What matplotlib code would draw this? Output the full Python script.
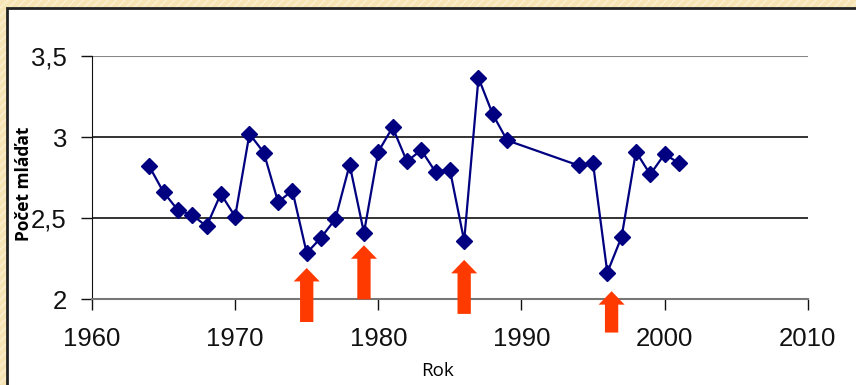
import matplotlib
matplotlib.use('Agg')
import matplotlib.pyplot as plt
from matplotlib.patches import Rectangle, FancyArrow

years = [1964, 1965, 1966, 1967, 1968, 1969, 1970, 1971, 1972, 1973, 1974,
         1975, 1976, 1977, 1978, 1979, 1980, 1981, 1982, 1983, 1984, 1985,
         1986, 1987, 1988, 1989, 1994, 1995, 1996, 1997, 1998, 1999, 2000, 2001]
mladata = [2.82, 2.66, 2.55, 2.52, 2.45, 2.65, 2.51, 3.02, 2.905, 2.60, 2.67,
           2.285, 2.38, 2.495, 2.83, 2.41, 2.91, 3.06, 2.85, 2.92, 2.785, 2.80,
           2.36, 3.365, 3.14, 2.98, 2.825, 2.84, 2.165, 2.385, 2.91, 2.77, 2.895, 2.84]

# arrows under the dips: year, tip, bottom
arrow_years = [1975, 1979, 1986, 1996.3]
arrow_tips = [2.193, 2.333, 2.243, 2.05]
arrow_bottoms = [1.86, 2.0, 1.91, 1.795]

xticks = [1960, 1970, 1980, 1990, 2000, 2010]
yticks = [2, 2.5, 3, 3.5]
ytick_labels = ["2", "2,5", "3", "3,5"]

fig = plt.figure(figsize=(8.56, 3.85), dpi=100)
fig.patch.set_facecolor('#F6E4B4')
# striped backdrop + white panel
fig.patches.append(Rectangle((0, 0), 1, 1, transform=fig.transFigure,
                             facecolor='#F6E4B4', edgecolor='#FBF0D2',
                             hatch='////', lw=0, zorder=-2))
fig.patches.append(Rectangle((7/856, -0.05), 1.0, 1 - 8/385 + 0.05,
                             transform=fig.transFigure, facecolor='white',
                             edgecolor='#222222', lw=2, zorder=-1))

ax = fig.add_axes([92/856, 1 - 299.3/385, (807.7 - 92)/856, (299.3 - 56)/385])
ax.set_facecolor('none')
ax.plot(years, mladata, color='#000080', lw=1.6, marker='D', markersize=8,
        markerfacecolor='#000080', markeredgecolor='#000080', zorder=3)

for x, tip, bot in zip(arrow_years, arrow_tips, arrow_bottoms):
    hl = 0.083
    arr = FancyArrow(x, bot, 0, tip - bot, width=0.93, head_width=1.82,
                     head_length=hl, length_includes_head=True,
                     color='#FF3A00', lw=0, clip_on=False, zorder=4)
    ax.add_patch(arr)

ax.set_xlim(1960, 2010)
ax.set_ylim(2, 3.5)
ax.set_xticks(xticks)
ax.set_yticks(yticks)
ax.set_yticklabels(ytick_labels)
ax.axhline(2.5, color='#111111', lw=1.2, zorder=1)
ax.axhline(3, color='#111111', lw=1.2, zorder=1)
ax.axhline(3.5, color='#888888', lw=1.5, zorder=1)

for s in ['top', 'right']:
    ax.spines[s].set_visible(False)
ax.spines['left'].set_color('#111111')
ax.spines['bottom'].set_color('#777777')
ax.spines['bottom'].set_linewidth(1.5)
ax.tick_params(axis='both', direction='out', length=8, width=1,
               labelsize=18.5, colors='#111111')
ax.tick_params(axis='x', pad=12)
ax.tick_params(axis='y', pad=10)
for lab in ax.get_xticklabels() + ax.get_yticklabels():
    lab.set_fontfamily('Liberation Sans')

ax.set_xlabel('Rok', fontsize=13.5, fontfamily='Open Sans')
ax.xaxis.set_label_coords((438 - 92) / (807.7 - 92), -(362 - 299.3) / (299.3 - 56))
ax.set_ylabel('Počet mláďat', fontsize=12.5, fontweight='bold', fontfamily='Open Sans')
ax.yaxis.set_label_coords(-(92 - 33) / (807.7 - 92), (299.3 - 184) / (299.3 - 56))

plt.savefig('out.png', dpi=100, facecolor=fig.get_facecolor())
